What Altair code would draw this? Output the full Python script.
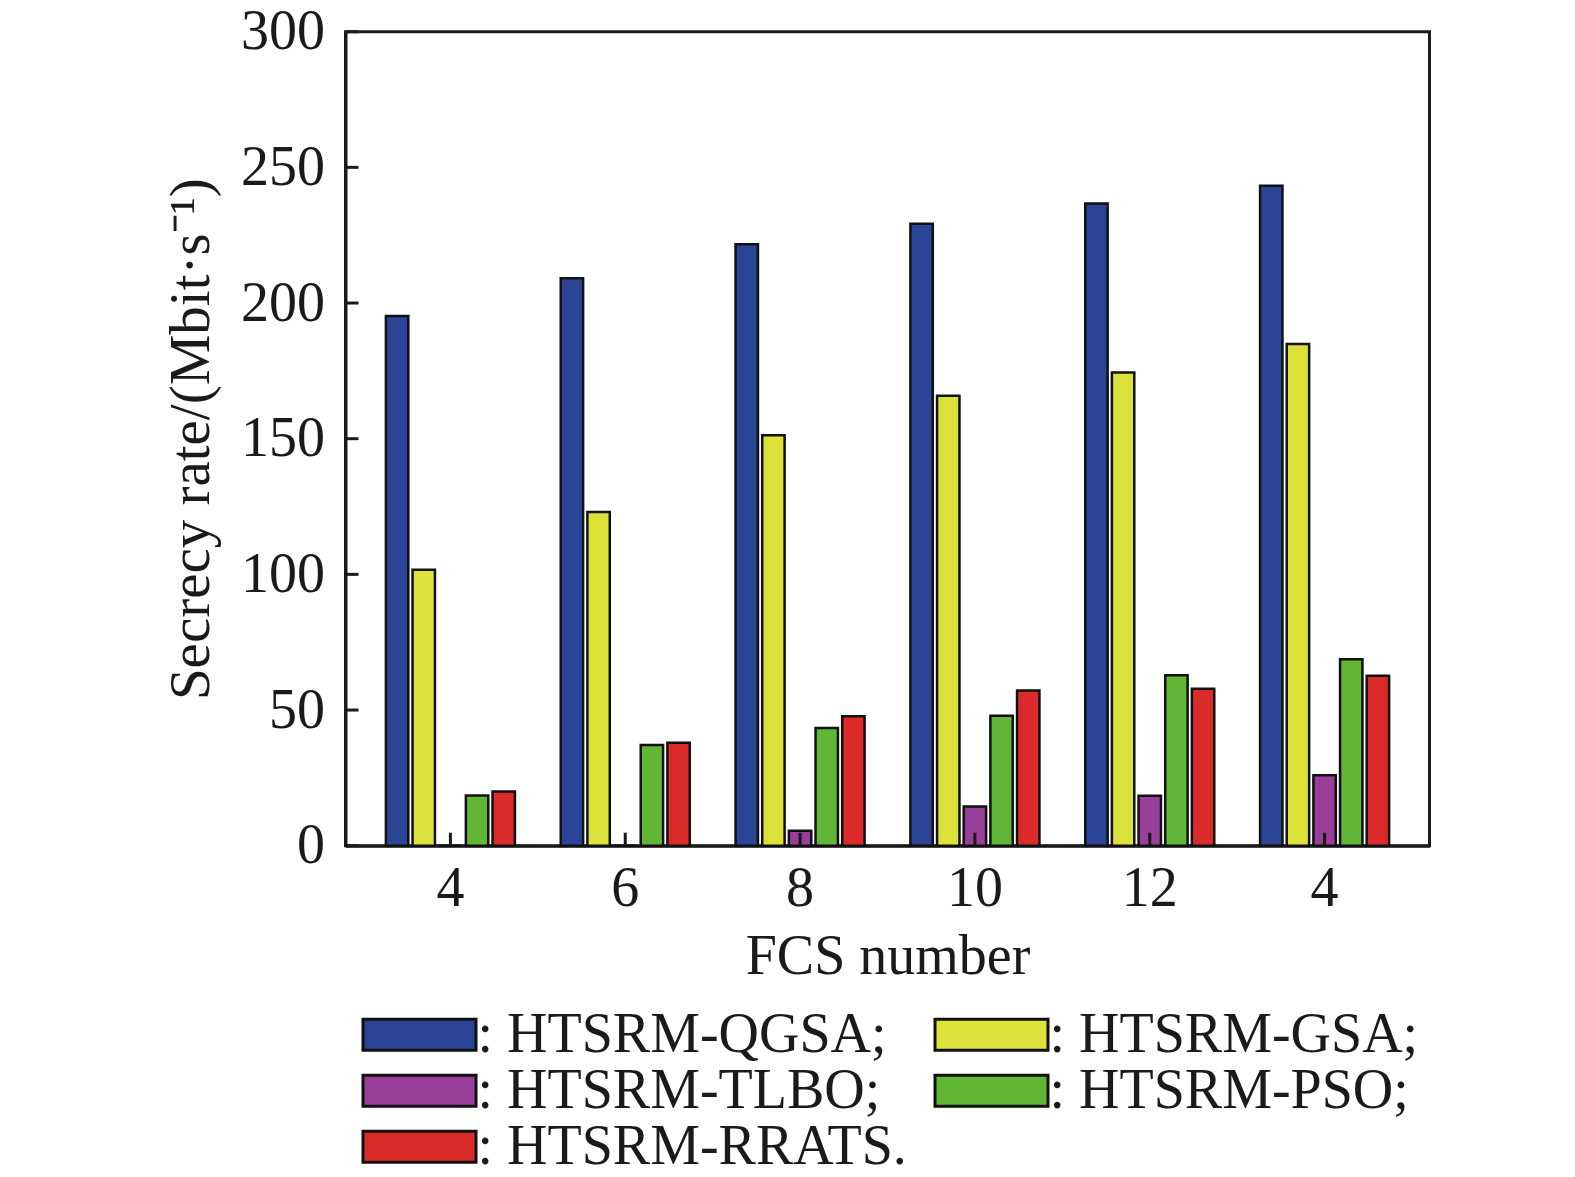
import altair as alt
import pandas as pd

# ---- data ----
fcs_labels = ["4", "6", "8", "10", "12", "4"]
series = ["HTSRM-QGSA", "HTSRM-GSA", "HTSRM-TLBO", "HTSRM-PSO", "HTSRM-RRATS"]
colors = ["#2B4596", "#DDE23A", "#9A3F99", "#62B636", "#DB2A2A"]
# legend is filled column by column: left column QGSA, TLBO, RRATS; right column GSA, PSO
legend_order = ["HTSRM-QGSA", "HTSRM-TLBO", "HTSRM-RRATS", "HTSRM-GSA", "HTSRM-PSO"]

qgsa = [195.2, 209.1, 221.7, 229.2, 236.7, 243.2]
gsa = [101.7, 123.0, 151.3, 165.8, 174.4, 184.9]
tlbo = [0.0, 0.0, 5.5, 14.4, 18.4, 26.0]
pso = [18.5, 37.1, 43.4, 47.9, 62.8, 68.7]
rrats = [20.0, 37.9, 47.7, 57.2, 57.8, 62.6]

y_ticks = [0, 50, 100, 150, 200, 250, 300]

values = [qgsa, gsa, tlbo, pso, rrats]
group_keys = [f"g{i}" for i in range(len(fcs_labels))]
color_of = dict(zip(series, colors))

rows = []
for s, vals in zip(series, values):
    for k, v in zip(group_keys, vals):
        rows.append({"group": k, "series": s, "value": v})
df = pd.DataFrame(rows)
df_groups = pd.DataFrame({"group": group_keys})
df_yticks = pd.DataFrame({"tick": y_ticks})

FONT = "Liberation Serif"
FS = 56
INK = "#1a1a1a"

label_lookup = "{" + ",".join(f"'{k}':'{l}'" for k, l in zip(group_keys, fcs_labels)) + "}"

x_scale = alt.Scale(domain=group_keys, paddingInner=0.262, paddingOuter=0.231)
y_scale = alt.Scale(domain=[0, 300], nice=False)

bars = alt.Chart(df).mark_bar(stroke="#111111", strokeWidth=2.5).encode(
    x=alt.X(
        "group:N",
        scale=x_scale,
        sort=group_keys,
        axis=alt.Axis(
            title="FCS number",
            labelExpr=f"{label_lookup}[datum.value]",
            labelAngle=0,
            labelFont=FONT,
            labelFontSize=FS,
            labelColor=INK,
            labelPadding=16,
            ticks=False,
            domainColor=INK,
            domainWidth=3,
            titleFont=FONT,
            titleFontSize=FS,
            titleFontWeight="normal",
            titleColor=INK,
            titlePadding=13,
        ),
    ),
    xOffset=alt.XOffset("series:N", sort=series, scale=alt.Scale(domain=series, paddingInner=0.16, paddingOuter=0)),
    y=alt.Y(
        "value:Q",
        scale=y_scale,
        axis=alt.Axis(
            title="Secrecy rate/(Mbit·s⁻¹)",
            values=y_ticks,
            labelFont=FONT,
            labelFontSize=FS,
            labelColor=INK,
            labelPadding=21,
            ticks=False,
            grid=False,
            domainColor=INK,
            domainWidth=3,
            titleFont=FONT,
            titleFontSize=57,
            titleFontWeight="normal",
            titleColor=INK,
            titlePadding=20,
        ),
    ),
    color=alt.Color(
        "series:N",
        scale=alt.Scale(domain=legend_order, range=[color_of[s] for s in legend_order]),
        legend=alt.Legend(
            title=None,
            orient="none",
            legendX=46,
            legendY=975,
            columns=2,
            columnPadding=21,
            rowPadding=0,
            symbolType="M-3.645,-1H3.645V1H-3.645Z",
            symbolSize=961,
            symbolStrokeColor="#111111",
            symbolStrokeWidth=3,
            symbolOpacity=1,
            labelFont=FONT,
            labelFontSize=FS,
            labelColor=INK,
            labelOffset=30,
            labelLimit=0,
            labelExpr="': ' + datum.label + (datum.label == 'HTSRM-RRATS' ? '.' : ';')",
        ),
    ),
)

# inward ticks on the y axis
y_tick_marks = alt.Chart(df_yticks).mark_rule(color=INK, strokeWidth=3).encode(
    y=alt.Y("tick:Q", scale=y_scale),
    x=alt.value(0),
    x2=alt.value(13),
)

# inward ticks on the x axis at group centres
x_tick_marks = alt.Chart(df_groups).mark_rule(color=INK, strokeWidth=3).encode(
    x=alt.X("group:N", scale=x_scale, sort=group_keys),
    y=alt.value(814),
    y2=alt.value(801),
)

chart = (
    alt.layer(bars, y_tick_marks, x_tick_marks)
    .properties(
        width=1084,
        height=814,
        autosize=alt.AutoSizeParams(type="none"),
        padding={"left": 337.5, "top": 23.7, "right": 135, "bottom": 322},
        background="white",
    )
    .configure_view(stroke=INK, strokeWidth=3)
)

chart.save("out.html", embed_options={"renderer": "svg", "actions": False})
